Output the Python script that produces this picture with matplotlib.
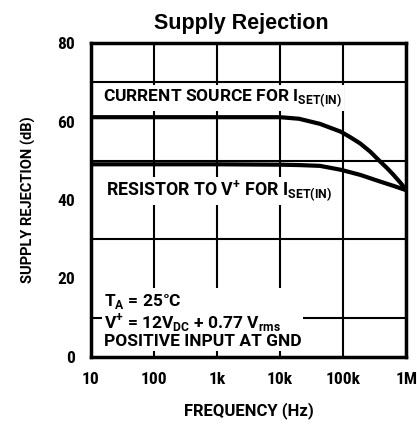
import numpy as np
import matplotlib
matplotlib.use("Agg")
import matplotlib.pyplot as plt

# Data
freq_current = [10, 100, 1e3, 1e4, 2e4, 4.3e4, 9.2e4, 1.3e5, 1.87e5, 2.7e5, 3.87e5, 5e5, 6.3e5, 8e5, 1e6]
rej_current = [61.1, 61.1, 61.1, 61.1, 60.7, 59.4, 57.4, 56.0, 54.4, 52.3, 49.8, 48.1, 46.4, 44.5, 42.6]

freq_resistor = [10, 100, 1e3, 1e4, 2e4, 4.3e4, 9.2e4, 1.87e5, 3.87e5, 6.3e5, 1e6]
rej_resistor = [49.1, 49.1, 49.1, 49.0, 48.9, 48.7, 47.7, 46.4, 44.7, 43.6, 42.5]

x_ticks = [10, 100, 1e3, 1e4, 1e5, 1e6]
x_labels = ['10', '100', '1k', '10k', '100k', '1M']
y_ticks = [0, 20, 40, 60, 80]

plt.rcParams['font.family'] = ['Roboto', 'DejaVu Sans']
plt.rcParams['font.weight'] = 'bold'
plt.rcParams['axes.labelweight'] = 'bold'
cond = ['Roboto Condensed', 'DejaVu Sans']

fig = plt.figure(figsize=(4.17, 4.26), dpi=100)
ax = fig.add_axes([0.218, 0.162, 0.756, 0.737])

ax.plot(freq_current, rej_current, color='black', lw=3, solid_capstyle='butt', zorder=4)
ax.plot(freq_resistor, rej_resistor, color='black', lw=3, solid_capstyle='butt', zorder=4)

ax.set_xscale('log')
ax.set_xlim(10, 1e6)
ax.set_ylim(0, 80)
ax.set_xticks(x_ticks)
ax.set_xticklabels(x_labels)
ax.set_yticks(y_ticks)
ax.xaxis.set_minor_locator(matplotlib.ticker.NullLocator())
ax.set_yticks(np.arange(0, 81, 10), minor=True)
ax.tick_params(which='both', length=0)
ax.tick_params(axis='x', pad=11, labelsize=12.5)
ax.tick_params(axis='y', pad=11.5, labelsize=12.5)
for lab in ax.get_xticklabels() + ax.get_yticklabels():
    lab.set_family(cond)
    lab.set_stretch('condensed')
ax.grid(True, which='major', axis='x', color='black', lw=1.5)
ax.grid(True, which='minor', axis='y', color='black', lw=1.5)
for s in ax.spines.values():
    s.set_linewidth(2.5)

ax.set_xlabel('FREQUENCY (Hz)', fontsize=12, labelpad=11)
ax.set_ylabel('SUPPLY REJECTION (dB)', fontsize=10.5, labelpad=15)
ax.set_title('Supply Rejection', family=['Liberation Sans', 'DejaVu Sans'],
             fontsize=15.5, fontweight='bold', pad=10, x=0.476)

box = dict(facecolor='white', edgecolor='none', pad=1.5)
ax.text(15.5, 66, r'CURRENT SOURCE FOR I$_{\mathregular{SET(IN)}}$', fontsize=12.5,
        va='center', ha='left', bbox=box, zorder=3)
ax.text(17.5, 42.3, r'RESISTOR TO V$^{\mathregular{+}}$ FOR I$_{\mathregular{SET(IN)}}$',
        fontsize=12.8, va='center', ha='left', bbox=box, zorder=3)
ax.text(16, 16.6, 'T$_{\\mathregular{A}}$ = 25\u00b0C\n'
        'V$^{\\mathregular{+}}$ = 12V$_{\\mathregular{DC}}$ + 0.77 V$_{\\mathregular{rms}}$\n'
        'POSITIVE INPUT AT GND', fontsize=12.5, va='top', ha='left',
        linespacing=1.0, bbox=box, zorder=3)

fig.savefig('out.png', dpi=100)
